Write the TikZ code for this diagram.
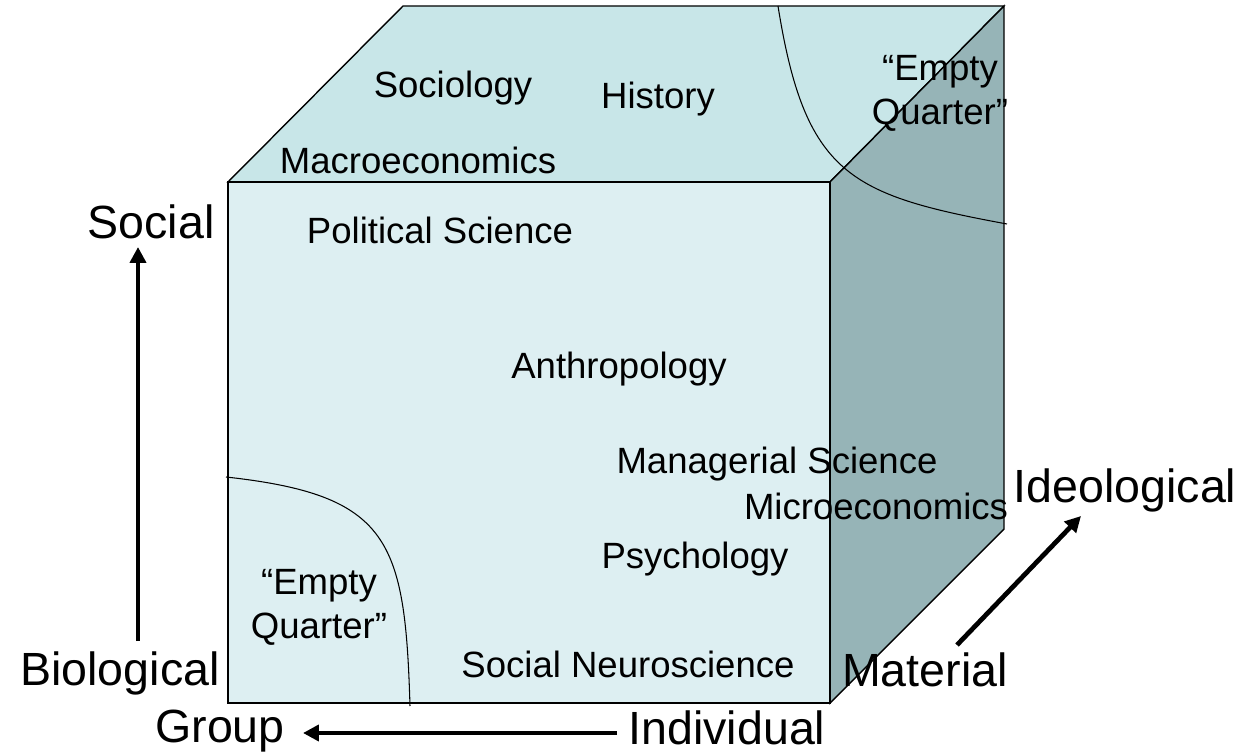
\documentclass[tikz,border=0pt]{standalone}
\usepackage{fontspec}
\setmainfont{Liberation Sans}
\usetikzlibrary{arrows.meta}
\definecolor{topface}{RGB}{200,230,232}
\definecolor{frontface}{RGB}{221,239,242}
\definecolor{sideface}{RGB}{150,180,183}
\tikzset{
  field/.style={font=\fontsize{20.8}{25}\selectfont, inner sep=0pt, align=center},
  pole/.style={font=\fontsize{26.5}{30}\selectfont, inner sep=0pt},
  axisarrow/.style={line width=2.7pt, -{Triangle[length=9pt,width=9pt]}},
  rim/.style={line width=0.8pt, draw=black},
}

\begin{document}
\begin{tikzpicture}[x=0.02cm, y=-0.02cm]
			%%%%% CUBE %%%%%
			\useasboundingbox (0, 0) rectangle (1245, 753);
			
			\draw[rim, fill=topface] (228, 182) -- (403, 6) -- (1004, 6) -- (830, 182) -- cycle;
			\draw[rim, fill=sideface] (830, 182) -- (1004, 6) -- (1004, 529) -- (830, 703) -- cycle;
			\draw[rim, fill=frontface] (228, 182) rectangle (830, 703);
			
			% boundaries of the empty quarters
			\draw[line width=0.6pt] (778, 6) .. controls (805, 175) and (850, 195) .. (1007, 224);
			\draw[line width=0.6pt] (226, 477) .. controls (390, 495) and (405, 540) .. (410, 706);
			
			%%%%% FIELDS %%%%%
			\node[field] (sociology) at (453, 88) {Sociology};
			\node[field] (history) at (658, 99) {History};
			\node[field] (emptytop) at (940, 93) {“Empty\\Quarter”};
			\node[field] (macro) at (418, 160) {Macroeconomics};
			\node[field] (polsci) at (440, 230) {Political Science};
			\node[field] (anthro) at (619, 369) {Anthropology};
			\node[field] (manage) at (777, 464) {Managerial Science};
			\node[field] (micro) at (876, 506) {Microeconomics};
			\node[field] (psych) at (695, 559) {Psychology};
			\node[field] (emptybottom) at (319, 607) {“Empty\\Quarter”};
			\node[field] (neuro) at (628, 664) {Social Neuroscience};
			
			%%%%% AXES %%%%%
			\node[pole] (social) at (151, 222) {Social};
			\node[pole] (bio) at (120, 673) {Biological};
			\node[pole] (group) at (220, 731) {Group};
			\node[pole] (indiv) at (727, 728) {Individual};
			\node[pole] (material) at (925, 670) {Material};
			\node[pole] (ideo) at (1125, 490) {Ideological};
			
			\coordinate (socialtip) at (138, 247);
			\coordinate (biobase) at (138, 641);
			\coordinate (grouptip) at (303, 733);
			\coordinate (indivbase) at (617, 733);
			\coordinate (ideotip) at (1081, 516);
			\coordinate (materialbase) at (957, 645);
			
			\draw[axisarrow] (biobase) -- (socialtip);
			\draw[axisarrow] (indivbase) -- (grouptip);
			\draw[axisarrow] (materialbase) -- (ideotip);
			
			%%%%% END %%%%%
\end{tikzpicture}
\end{document}
